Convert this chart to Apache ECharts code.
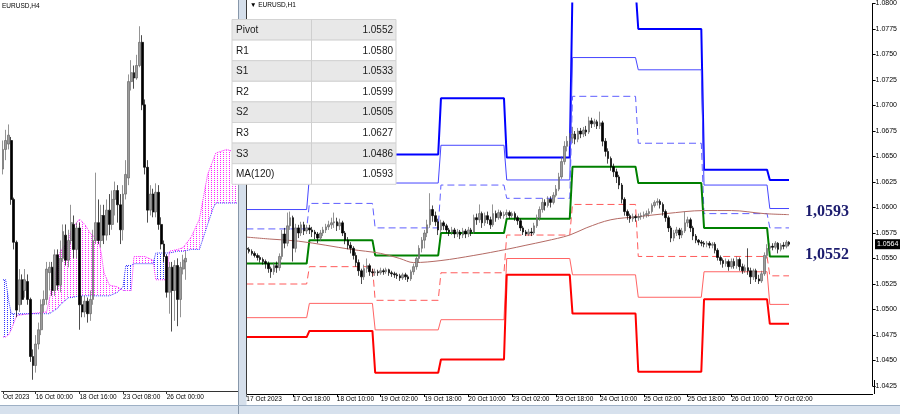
<!DOCTYPE html>
<html><head><meta charset="utf-8">
<script src="https://cdn.jsdelivr.net/npm/echarts@6/dist/echarts.min.js"></script>
<style>html,body{margin:0;padding:0;background:#fff;}#c{width:900px;height:414px;}</style>
</head><body><div id="c"></div>
<script>
// ---------- LEFT PANEL : EURUSD H4 ----------
const h4TickIdx = [0, 12, 28, 44, 60];
const h4TickText = ['Oct 2023', '16 Oct 00:00', '18 Oct 16:00', '23 Oct 08:00', '26 Oct 00:00'];
// [open, close, low, high]
const h4Candles = [
[1.0615,1.0626,1.0612,1.0631],[1.0626,1.0631,1.0620,1.0637],[1.0629,1.0634,1.0626,1.0640],[1.0631,1.0598,1.0595,1.0633],
[1.0598,1.0574,1.0570,1.0599],[1.0574,1.0536,1.0532,1.0575],[1.0539,1.0553,1.0535,1.0559],[1.0553,1.0542,1.0539,1.0556],
[1.0547,1.0553,1.0543,1.0559],[1.0552,1.0542,1.0539,1.0556],[1.0542,1.0510,1.0507,1.0543],[1.0510,1.0505,1.0497,1.0514],
[1.0505,1.0517,1.0501,1.0522],[1.0517,1.0525,1.0514,1.0529],[1.0525,1.0539,1.0522,1.0542],[1.0539,1.0542,1.0535,1.0547],
[1.0542,1.0559,1.0539,1.0563],[1.0557,1.0560,1.0547,1.0563],[1.0560,1.0547,1.0544,1.0563],[1.0547,1.0567,1.0544,1.0570],
[1.0567,1.0550,1.0547,1.0570],[1.0550,1.0565,1.0546,1.0575],[1.0565,1.0580,1.0563,1.0584],[1.0578,1.0564,1.0561,1.0584],
[1.0564,1.0575,1.0560,1.0581],[1.0575,1.0585,1.0573,1.0595],[1.0584,1.0570,1.0565,1.0589],[1.0570,1.0582,1.0565,1.0585],
[1.0582,1.0539,1.0525,1.0585],[1.0539,1.0535,1.0532,1.0544],[1.0535,1.0541,1.0532,1.0544],[1.0541,1.0534,1.0529,1.0543],
[1.0534,1.0542,1.0530,1.0547],[1.0542,1.0575,1.0539,1.0581],[1.0575,1.0585,1.0573,1.0613],[1.0585,1.0575,1.0573,1.0598],
[1.0575,1.0589,1.0571,1.0595],[1.0589,1.0578,1.0573,1.0595],[1.0578,1.0592,1.0575,1.0598],[1.0592,1.0584,1.0578,1.0601],
[1.0584,1.0598,1.0581,1.0603],[1.0598,1.0603,1.0589,1.0608],[1.0603,1.0595,1.0585,1.0606],[1.0595,1.0581,1.0573,1.0601],
[1.0581,1.0601,1.0575,1.0606],[1.0601,1.0612,1.0598,1.0620],[1.0610,1.0664,1.0606,1.0668],[1.0664,1.0669,1.0659,1.0676],
[1.0669,1.0666,1.0660,1.0673],[1.0666,1.0673,1.0665,1.0679],[1.0673,1.0686,1.0672,1.0695],[1.0686,1.0651,1.0648,1.0690],
[1.0651,1.0616,1.0612,1.0654],[1.0616,1.0592,1.0585,1.0620],[1.0592,1.0601,1.0589,1.0606],[1.0601,1.0591,1.0588,1.0604],
[1.0591,1.0602,1.0588,1.0607],[1.0602,1.0584,1.0581,1.0606],[1.0584,1.0573,1.0570,1.0588],[1.0573,1.0566,1.0563,1.0575],
[1.0566,1.0546,1.0543,1.0567],[1.0546,1.0560,1.0534,1.0563],[1.0560,1.0547,1.0524,1.0563],[1.0547,1.0561,1.0530,1.0564],
[1.0561,1.0542,1.0527,1.0565],[1.0542,1.0560,1.0532,1.0563],[1.0559,1.0564,1.0556,1.0567],[1.0563,1.0565,1.0553,1.0569]
];
// Ichimoku cloud (Senkou span A / B) sampled at bar indices
const cloudIdx = [0,1,2,3,5,10,16,17,18,20,21,24,25,28,30,32,35,36,37,39,42,44,45,47,48,52,55,56,60,61,64,66,69,72,75,77,78,82,84,86];
const spanA = [1.0521,1.0521,1.0522,1.0525,1.0533,1.0534,1.0535,1.0542,1.0550,1.0561,1.0569,1.0575,1.0581,1.0587,1.0584,1.0579,1.0575,1.0568,1.0557,1.0550,1.0549,1.0547,1.0547,1.0547,1.0566,1.0566,1.0564,1.0553,1.0553,1.0569,1.0570,1.0571,1.0577,1.0587,1.0612,1.0620,1.0624,1.0626,1.0625,1.0622];
const spanB = [1.0553,1.0553,1.0542,1.0534,1.0534,1.0534,1.0534,1.0534,1.0535,1.0537,1.0539,1.0543,1.0543,1.0544,1.0544,1.0544,1.0544,1.0544,1.0544,1.0544,1.0546,1.0549,1.0561,1.0561,1.0562,1.0562,1.0562,1.0568,1.0568,1.0568,1.0569,1.0569,1.0570,1.0570,1.0584,1.0593,1.0596,1.0596,1.0596,1.0596];
const h4Min = 1.04907, h4Max = 1.07097;

// ---------- RIGHT PANEL : EURUSD H1 (first bar = 17 Oct 01:00) ----------
const h1TickIdx = [0,17,33,49,65,81,97,113,129,145,161,177,193];
const h1TickText = ['17 Oct 2023','17 Oct 18:00','18 Oct 10:00','19 Oct 02:00','19 Oct 18:00','20 Oct 10:00','23 Oct 02:00','23 Oct 18:00','24 Oct 10:00','25 Oct 02:00','25 Oct 18:00','26 Oct 10:00','27 Oct 02:00'];
const h1Candles = [
[1.0560,1.0559,1.0556,1.0562],[1.0559,1.0557,1.0555,1.0561],[1.0557,1.0555,1.0553,1.0559],[1.0555,1.0553,1.0551,1.0557],
[1.0553,1.0551,1.0548,1.0555],[1.0551,1.0549,1.0546,1.0553],[1.0549,1.0547,1.0544,1.0551],[1.0547,1.0545,1.0540,1.0549],
[1.0545,1.0540,1.0536,1.0547],[1.0540,1.0537,1.0531,1.0542],[1.0537,1.0543,1.0534,1.0546],[1.0543,1.0541,1.0536,1.0547],
[1.0541,1.0552,1.0538,1.0555],[1.0552,1.0574,1.0549,1.0578],[1.0574,1.0565,1.0560,1.0580],[1.0565,1.0582,1.0562,1.0595],
[1.0582,1.0590,1.0578,1.0596],[1.0590,1.0560,1.0547,1.0592],[1.0560,1.0580,1.0556,1.0584],[1.0580,1.0575,1.0570,1.0583],
[1.0575,1.0583,1.0572,1.0586],[1.0583,1.0577,1.0573,1.0586],[1.0577,1.0580,1.0574,1.0583],[1.0580,1.0578,1.0574,1.0583],
[1.0578,1.0576,1.0571,1.0581],[1.0576,1.0574,1.0569,1.0578],[1.0574,1.0570,1.0565,1.0576],[1.0570,1.0575,1.0567,1.0578],
[1.0575,1.0578,1.0572,1.0581],[1.0578,1.0581,1.0575,1.0584],[1.0581,1.0583,1.0578,1.0587],[1.0583,1.0585,1.0579,1.0590],
[1.0585,1.0586,1.0580,1.0595],[1.0586,1.0582,1.0577,1.0590],[1.0582,1.0585,1.0578,1.0589],[1.0585,1.0575,1.0572,1.0587],
[1.0575,1.0568,1.0564,1.0577],[1.0568,1.0563,1.0559,1.0571],[1.0563,1.0560,1.0555,1.0566],[1.0560,1.0553,1.0549,1.0562],
[1.0553,1.0546,1.0542,1.0556],[1.0546,1.0538,1.0533,1.0549],[1.0538,1.0532,1.0525,1.0540],[1.0532,1.0540,1.0529,1.0544],
[1.0540,1.0543,1.0536,1.0550],[1.0543,1.0537,1.0533,1.0545],[1.0537,1.0536,1.0532,1.0540],[1.0536,1.0537,1.0533,1.0540],
[1.0537,1.0536,1.0533,1.0539],[1.0536,1.0538,1.0534,1.0541],[1.0538,1.0537,1.0534,1.0540],[1.0537,1.0539,1.0535,1.0541],
[1.0539,1.0536,1.0533,1.0540],[1.0536,1.0535,1.0532,1.0538],[1.0535,1.0534,1.0531,1.0537],[1.0534,1.0533,1.0530,1.0536],
[1.0533,1.0531,1.0528,1.0535],[1.0531,1.0534,1.0529,1.0536],[1.0534,1.0532,1.0529,1.0536],[1.0532,1.0530,1.0527,1.0534],
[1.0530,1.0537,1.0528,1.0539],[1.0537,1.0542,1.0534,1.0545],[1.0542,1.0550,1.0539,1.0552],[1.0550,1.0560,1.0546,1.0563],
[1.0560,1.0568,1.0556,1.0571],[1.0568,1.0575,1.0560,1.0578],[1.0575,1.0583,1.0571,1.0588],[1.0583,1.0598,1.0580,1.0614],
[1.0598,1.0592,1.0586,1.0602],[1.0592,1.0586,1.0582,1.0596],[1.0586,1.0578,1.0573,1.0589],[1.0578,1.0585,1.0575,1.0588],
[1.0585,1.0582,1.0578,1.0587],[1.0582,1.0578,1.0575,1.0584],[1.0578,1.0576,1.0572,1.0580],[1.0576,1.0578,1.0573,1.0581],
[1.0578,1.0574,1.0570,1.0580],[1.0574,1.0576,1.0571,1.0579],[1.0576,1.0573,1.0569,1.0578],[1.0573,1.0577,1.0570,1.0580],
[1.0577,1.0574,1.0570,1.0579],[1.0574,1.0578,1.0571,1.0581],[1.0578,1.0576,1.0572,1.0580],[1.0576,1.0590,1.0574,1.0593],
[1.0590,1.0588,1.0583,1.0594],[1.0588,1.0594,1.0585,1.0603],[1.0594,1.0585,1.0580,1.0596],[1.0585,1.0592,1.0582,1.0595],
[1.0592,1.0588,1.0584,1.0596],[1.0588,1.0583,1.0579,1.0591],[1.0583,1.0594,1.0581,1.0603],[1.0594,1.0590,1.0586,1.0597],
[1.0590,1.0595,1.0588,1.0598],[1.0595,1.0592,1.0589,1.0597],[1.0592,1.0593,1.0589,1.0596],[1.0593,1.0595,1.0590,1.0598],
[1.0595,1.0592,1.0589,1.0597],[1.0592,1.0594,1.0590,1.0596],[1.0594,1.0590,1.0587,1.0596],[1.0590,1.0587,1.0583,1.0592],
[1.0587,1.0580,1.0577,1.0589],[1.0580,1.0576,1.0573,1.0582],[1.0576,1.0574,1.0572,1.0578],[1.0574,1.0576,1.0572,1.0579],
[1.0576,1.0575,1.0572,1.0580],[1.0575,1.0582,1.0573,1.0585],[1.0582,1.0590,1.0580,1.0593],[1.0590,1.0598,1.0587,1.0601],
[1.0598,1.0605,1.0595,1.0609],[1.0605,1.0602,1.0597,1.0608],[1.0602,1.0608,1.0600,1.0611],[1.0608,1.0605,1.0600,1.0611],
[1.0605,1.0612,1.0603,1.0615],[1.0612,1.0618,1.0610,1.0622],[1.0618,1.0630,1.0616,1.0634],[1.0630,1.0645,1.0628,1.0650],
[1.0645,1.0660,1.0642,1.0665],[1.0660,1.0665,1.0655,1.0670],[1.0665,1.0668,1.0660,1.0673],[1.0668,1.0672,1.0663,1.0679],
[1.0672,1.0667,1.0662,1.0675],[1.0667,1.0675,1.0664,1.0678],[1.0675,1.0672,1.0668,1.0678],[1.0672,1.0676,1.0669,1.0679],
[1.0676,1.0674,1.0670,1.0680],[1.0674,1.0685,1.0672,1.0689],[1.0685,1.0682,1.0678,1.0688],[1.0682,1.0684,1.0679,1.0687],
[1.0684,1.0680,1.0677,1.0686],[1.0680,1.0683,1.0677,1.0694],[1.0683,1.0665,1.0660,1.0685],[1.0665,1.0655,1.0650,1.0668],
[1.0655,1.0648,1.0643,1.0658],[1.0648,1.0640,1.0636,1.0650],[1.0640,1.0635,1.0630,1.0643],[1.0635,1.0630,1.0624,1.0638],
[1.0630,1.0622,1.0618,1.0632],[1.0622,1.0608,1.0604,1.0624],[1.0608,1.0596,1.0592,1.0610],[1.0596,1.0592,1.0588,1.0598],
[1.0592,1.0589,1.0585,1.0594],[1.0589,1.0591,1.0586,1.0594],[1.0591,1.0590,1.0586,1.0593],[1.0590,1.0591,1.0587,1.0594],
[1.0591,1.0592,1.0588,1.0595],[1.0592,1.0593,1.0589,1.0596],[1.0593,1.0594,1.0590,1.0597],[1.0594,1.0596,1.0591,1.0599],
[1.0596,1.0602,1.0594,1.0604],[1.0602,1.0605,1.0600,1.0607],[1.0605,1.0606,1.0602,1.0609],[1.0606,1.0603,1.0599,1.0608],
[1.0603,1.0596,1.0592,1.0605],[1.0596,1.0590,1.0586,1.0598],[1.0590,1.0580,1.0576,1.0592],[1.0580,1.0570,1.0566,1.0582],
[1.0570,1.0575,1.0567,1.0578],[1.0575,1.0578,1.0572,1.0581],[1.0578,1.0573,1.0569,1.0580],[1.0573,1.0577,1.0570,1.0580],
[1.0577,1.0585,1.0575,1.0596],[1.0585,1.0588,1.0581,1.0591],[1.0588,1.0580,1.0576,1.0590],[1.0580,1.0572,1.0568,1.0582],
[1.0572,1.0568,1.0565,1.0574],[1.0568,1.0566,1.0563,1.0569],[1.0566,1.0565,1.0562,1.0568],[1.0565,1.0564,1.0561,1.0567],
[1.0564,1.0565,1.0561,1.0567],[1.0565,1.0563,1.0560,1.0567],[1.0563,1.0564,1.0560,1.0566],[1.0564,1.0558,1.0555,1.0566],
[1.0558,1.0551,1.0548,1.0560],[1.0551,1.0548,1.0544,1.0553],[1.0548,1.0545,1.0541,1.0550],[1.0545,1.0547,1.0542,1.0550],
[1.0547,1.0542,1.0538,1.0549],[1.0542,1.0547,1.0540,1.0550],[1.0547,1.0543,1.0540,1.0550],[1.0543,1.0549,1.0540,1.0552],
[1.0549,1.0542,1.0538,1.0551],[1.0542,1.0538,1.0535,1.0545],[1.0538,1.0541,1.0536,1.0544],[1.0541,1.0538,1.0534,1.0560],
[1.0538,1.0532,1.0525,1.0541],[1.0532,1.0538,1.0529,1.0540],[1.0538,1.0530,1.0527,1.0540],[1.0530,1.0528,1.0525,1.0534],
[1.0528,1.0535,1.0526,1.0538],[1.0535,1.0553,1.0533,1.0556],[1.0553,1.0560,1.0550,1.0564],[1.0560,1.0562,1.0557,1.0565],
[1.0562,1.0561,1.0558,1.0565],[1.0561,1.0565,1.0559,1.0567],[1.0565,1.0559,1.0555,1.0566],[1.0559,1.0563,1.0557,1.0565],
[1.0563,1.0562,1.0559,1.0566],[1.0562,1.0566,1.0560,1.0568],[1.0566,1.0564,1.0562,1.0567]
];
const h1CatCount = 229;
// daily pivot levels (17,18,19,20,23,24,25,26,27 Oct), day start bar index
const pivotDayStart = [0, 23, 47, 71, 95, 119, 143, 167, 191];
const levelR3 = [1.0633, 1.0666, 1.0652, 1.0707, 1.0649, 1.0815, 1.0775, 1.0637, 1.0627];
const levelR2 = [1.0598, 1.0630, 1.0624, 1.0661, 1.0627, 1.0747, 1.0735, 1.0622, 1.0599];
const levelR1 = [1.0579, 1.0604, 1.0580, 1.0622, 1.0609, 1.0709, 1.0663, 1.0594, 1.0580];
const levelP  = [1.0545, 1.0568, 1.0553, 1.0575, 1.0589, 1.0640, 1.0624, 1.0580, 1.0552];
const levelS1 = [1.0525, 1.0542, 1.0509, 1.0536, 1.0573, 1.0603, 1.0552, 1.0552, 1.0533];
const levelS2 = [1.0492, 1.0506, 1.0480, 1.0490, 1.0550, 1.0534, 1.0512, 1.0537, 1.0505];
const levelS3 = [1.0473, 1.0479, 1.0438, 1.0451, 1.0534, 1.0496, 1.0439, 1.0510, 1.0486];
// MA(120)
const maIdx = [0, 9, 19, 29, 38, 49, 56, 61, 71, 83, 95, 102, 109, 118, 124, 133, 143, 153, 167, 177, 189, 198];
const maValues = [1.0571, 1.0569, 1.0567, 1.0563, 1.0559, 1.0555, 1.0550, 1.0546, 1.0548, 1.0553, 1.0559, 1.0563, 1.0567, 1.0573, 1.0580, 1.0588, 1.0591, 1.0594, 1.0597, 1.0597, 1.0594, 1.0593];
// right price axis
const yMin = 1.0425, yMax = 1.0800, yStep = 0.0025;
const lastPrice = 1.0564;
// table
const tableNames = ['Pivot', 'R1', 'S1', 'R2', 'S2', 'R3', 'S3', 'MA(120)'];
const tableValues = ['1.0552', '1.0580', '1.0533', '1.0599', '1.0505', '1.0627', '1.0486', '1.0593'];

// ---------- build ----------
const chart = echarts.init(document.getElementById('c'), null, {renderer: 'canvas'});
const h1Cats = Array.from({length: h1CatCount}, (_, i) => String(i));
const h4Cats = Array.from({length: 87}, (_, i) => String(i));
const h1Last = h1Candles.length - 1;

function stepData(levels) {
  const pts = [];
  for (let d = 0; d < levels.length; d++) {
    const s = pivotDayStart[d];
    const e = d < levels.length - 1 ? pivotDayStart[d + 1] - 1 : h1Last;
    pts.push([s, levels[d]], [e, levels[d]]);
  }
  return pts;
}
function pat(color) {
  const c = document.createElement('canvas');
  c.width = 3; c.height = 2;
  const g = c.getContext('2d');
  g.fillStyle = color; g.fillRect(1, 0, 1, 1);
  return c;
}
const magPat = {image: pat('#ff22ff'), repeat: 'repeat'};
const bluPat = {image: pat('#3333ff'), repeat: 'repeat'};

const levelDefs = [
  {d: levelR3, c: '#0000ff', w: 2, t: 'solid'},
  {d: levelR2, c: '#4646ff', w: 1, t: 'solid'},
  {d: levelR1, c: '#5f5fff', w: 1, t: [7, 4]},
  {d: levelS1, c: '#ff5a5a', w: 1, t: [7, 4]},
  {d: levelS2, c: '#ff6464', w: 1, t: 'solid'},
  {d: levelS3, c: '#ff0000', w: 2, t: 'solid'},
  {d: levelP,  c: '#008000', w: 2, t: 'solid'}
];

const axisFont = 'Liberation Sans, Arial, sans-serif';
const series = [];
// cloud fill
series.push({
  type: 'custom', xAxisIndex: 0, yAxisIndex: 0, silent: true, clip: true, z: 1,
  data: cloudIdx.slice(0, -1).map((k, n) => [k, spanA[n]]),
  encode: {x: 0, y: 1},
  renderItem: function (params, api) {
    const n = params.dataIndex;
    const k1 = cloudIdx[n], k2 = cloudIdx[n + 1];
    const a1 = api.coord([k1, spanA[n]]), a2 = api.coord([k2, spanA[n + 1]]);
    const b1 = api.coord([k1, spanB[n]]), b2 = api.coord([k2, spanB[n + 1]]);
    const d1 = spanA[n] - spanB[n], d2 = spanA[n + 1] - spanB[n + 1];
    const children = [];
    if (d1 * d2 >= 0) {
      const up = (d1 + d2) >= 0;
      children.push({type: 'polygon', shape: {points: [a1, a2, b2, b1]}, style: {fill: up ? magPat : bluPat}});
    } else {
      const t = d1 / (d1 - d2);
      const cx = [a1[0] + (a2[0] - a1[0]) * t, a1[1] + (a2[1] - a1[1]) * t];
      children.push({type: 'polygon', shape: {points: [a1, cx, b1]}, style: {fill: d1 > 0 ? magPat : bluPat}});
      children.push({type: 'polygon', shape: {points: [cx, a2, b2]}, style: {fill: d2 > 0 ? magPat : bluPat}});
    }
    return {type: 'group', children: children};
  }
});
series.push({type: 'line', xAxisIndex: 0, yAxisIndex: 0, symbol: 'none', silent: true, z: 2,
  data: cloudIdx.map((k, n) => [k, spanA[n]]), lineStyle: {color: '#ff22ff', width: 1, type: 'dotted'}});
series.push({type: 'line', xAxisIndex: 0, yAxisIndex: 0, symbol: 'none', silent: true, z: 2,
  data: cloudIdx.map((k, n) => [k, spanB[n]]), lineStyle: {color: '#3333ff', width: 1, type: 'dotted'}});
// H4 candles
series.push({type: 'candlestick', xAxisIndex: 0, yAxisIndex: 0, data: h4Candles, barWidth: 2.4, z: 5, silent: true,
  itemStyle: {color: '#9c9c9c', color0: '#000000', borderColor: '#666666', borderColor0: '#000000', borderWidth: 0.7}});
// pivot levels
levelDefs.forEach(L => {
  series.push({type: 'line', xAxisIndex: 1, yAxisIndex: 1, symbol: 'none', silent: true, z: 3,
    data: stepData(L.d), lineStyle: {color: L.c, width: L.w, type: L.t}});
});
// MA
series.push({type: 'line', xAxisIndex: 1, yAxisIndex: 1, symbol: 'none', silent: true, z: 3, smooth: 0.35,
  data: maIdx.map((k, n) => [k, maValues[n]]), lineStyle: {color: '#b46a64', width: 1}});
// H1 candles
series.push({type: 'candlestick', xAxisIndex: 1, yAxisIndex: 1, data: h1Candles, barWidth: 2, z: 5, silent: true,
  itemStyle: {color: '#9c9c9c', color0: '#000000', borderColor: '#666666', borderColor0: '#000000', borderWidth: 0.7}});

chart.setOption({
  animation: false,
  backgroundColor: '#ffffff',
  grid: [
    {left: 0, top: 0, width: 239, height: 391},
    {left: 245, top: 1, width: 629, height: 385}
  ],
  xAxis: [
    {type: 'category', gridIndex: 0, data: h4Cats, boundaryGap: true,
      axisLine: {lineStyle: {color: '#333', width: 1}},
      axisTick: {show: true, alignWithLabel: true, length: 3, interval: (i) => h4TickIdx.includes(i), lineStyle: {color: '#333'}},
      axisLabel: {interval: (i) => h4TickIdx.includes(i), align: 'left', margin: 2.5, fontSize: 6.5, color: '#000', fontFamily: axisFont,
        formatter: (v, i) => { const p = h4TickIdx.indexOf(i); return p >= 0 ? h4TickText[p] : ''; }},
      splitLine: {show: false}},
    {type: 'category', gridIndex: 1, data: h1Cats, boundaryGap: true, offset: 8,
      axisLine: {lineStyle: {color: '#000', width: 1}},
      axisTick: {show: true, alignWithLabel: true, length: 3, interval: (i) => h1TickIdx.includes(i), lineStyle: {color: '#000'}},
      axisLabel: {interval: (i) => h1TickIdx.includes(i), align: 'left', margin: 1.5, fontSize: 6.5, color: '#000', fontFamily: axisFont,
        formatter: (v, i) => { const p = h1TickIdx.indexOf(i); return p >= 0 ? h1TickText[p] : ''; }},
      splitLine: {show: false}}
  ],
  yAxis: [
    {type: 'value', gridIndex: 0, min: h4Min, max: h4Max, show: false, splitLine: {show: false}},
    {type: 'value', gridIndex: 1, position: 'right', min: yMin, max: yMax, interval: yStep,
      axisLine: {show: true, lineStyle: {color: '#000', width: 1}},
      axisTick: {show: true, length: 3, lineStyle: {color: '#000'}},
      axisLabel: {margin: 3, fontSize: 7, color: '#000', fontFamily: axisFont, formatter: (v) => v.toFixed(4)},
      splitLine: {show: false}}
  ],
  series: series
});

// ---------- overlays ----------
const g = [];
const yMA = chart.convertToPixel({yAxisIndex: 1}, maValues[maValues.length - 1]);
const yPV = chart.convertToPixel({yAxisIndex: 1}, levelP[levelP.length - 1]);
const yLP = chart.convertToPixel({yAxisIndex: 1}, lastPrice);
const xAxisY = 394;
// frame between panels
g.push({type: 'rect', shape: {x: 238, y: 0, width: 8.5, height: 414}, style: {fill: '#d5dfeb'}, z: 50});
g.push({type: 'line', shape: {x1: 238.5, y1: 0, x2: 238.5, y2: 414}, style: {stroke: '#8797aa', lineWidth: 1}, z: 51});
g.push({type: 'line', shape: {x1: 246.5, y1: 0, x2: 246.5, y2: xAxisY}, style: {stroke: '#3a3a3a', lineWidth: 1}, z: 51});
g.push({type: 'line', shape: {x1: 874.5, y1: 380, x2: 874.5, y2: xAxisY}, style: {stroke: '#000', lineWidth: 1}, z: 51});
// bottom strip
g.push({type: 'rect', shape: {x: 0, y: 405, width: 900, height: 9}, style: {fill: '#d7e1ed'}, z: 50});
g.push({type: 'line', shape: {x1: 0, y1: 405.5, x2: 900, y2: 405.5}, style: {stroke: '#9eb0c5', lineWidth: 1}, z: 51});
// headers
g.push({type: 'text', style: {text: 'EURUSD,H4', x: 2, y: 6, verticalAlign: 'middle', font: '6.5px ' + axisFont, fill: '#000'}, z: 52});
g.push({type: 'text', style: {text: '\u25BC EURUSD,H1', x: 250, y: 5, verticalAlign: 'middle', font: '6.5px ' + axisFont, fill: '#000'}, z: 52});
// price box
g.push({type: 'rect', shape: {x: 875, y: yLP - 5, width: 25, height: 10}, style: {fill: '#000'}, z: 52});
g.push({type: 'text', style: {text: lastPrice.toFixed(4), x: 877, y: yLP, verticalAlign: 'middle', font: '7px ' + axisFont, fill: '#fff'}, z: 53});
// value labels
g.push({type: 'text', style: {text: maValues[maValues.length - 1].toFixed(4).replace('.', ','), x: 805, y: yMA - 2.5, verticalAlign: 'middle', font: 'bold 16px "Liberation Serif", "Times New Roman", serif', fill: '#1c1c6e'}, z: 52});
g.push({type: 'text', style: {text: levelP[levelP.length - 1].toFixed(4).replace('.', ','), x: 805, y: yPV - 2, verticalAlign: 'middle', font: 'bold 16px "Liberation Serif", "Times New Roman", serif', fill: '#1c1c6e'}, z: 52});
// table
const tX = 232, tY = 19.5, rowH = 20.6, col = 311.5, tR = 396;
tableNames.forEach((name, r) => {
  const y = tY + r * rowH;
  g.push({type: 'rect', shape: {x: tX, y: y, width: tR - tX, height: rowH}, style: {fill: r % 2 === 0 ? '#e8e8e8' : '#ffffff', stroke: '#d3d3d3', lineWidth: 1}, z: 60});
  g.push({type: 'text', style: {text: name, x: tX + 4, y: y + rowH / 2 + 0.5, verticalAlign: 'middle', font: '10px ' + axisFont, fill: '#1a1a1a'}, z: 61});
  g.push({type: 'text', style: {text: tableValues[r], x: tR - 3, y: y + rowH / 2 + 0.5, align: 'right', verticalAlign: 'middle', font: '10px ' + axisFont, fill: '#1a1a1a'}, z: 61});
});
g.push({type: 'line', shape: {x1: col, y1: tY, x2: col, y2: tY + rowH * tableNames.length}, style: {stroke: '#cfcfcf', lineWidth: 1}, z: 62});
chart.setOption({graphic: g});
</script></body></html>
